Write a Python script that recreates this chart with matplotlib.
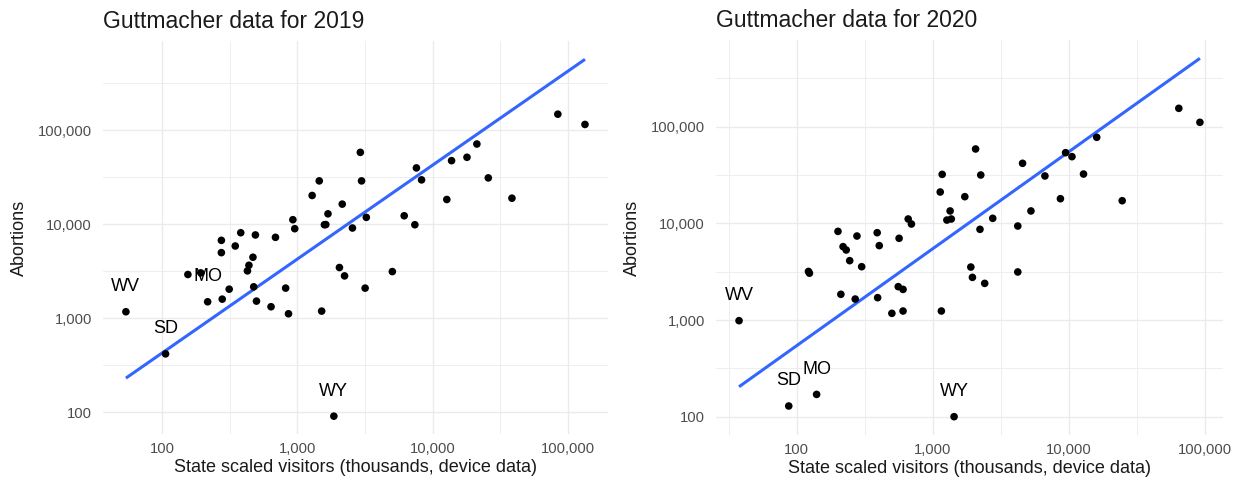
import numpy as np
import matplotlib
matplotlib.use("Agg")
import matplotlib.pyplot as plt
from matplotlib.ticker import FuncFormatter, FixedLocator

plt.rcParams['font.family'] = ['Liberation Sans', 'DejaVu Sans']

# ------------------- data -------------------
# 2019: state scaled visitors (thousands) vs abortions, unlabelled states
x_2019 = [155, 193, 313, 278, 274, 274, 347, 381, 489, 469, 438, 427, 475,
          498, 638, 688, 818, 859, 925, 955, 1284, 1449, 1510, 1582, 1620,
          1681, 2143, 2043, 2229, 2549, 2916, 2976, 3228, 3163, 5027, 6150,
          7374, 7572, 8262, 12700, 13770, 17900, 21180, 25720, 38470, 83990,
          133300]
y_2019 = [2917, 3035, 2037, 1596, 4980, 6730, 5860, 8110, 7680, 4450, 3656,
          3187, 2158, 1521, 1325, 7245, 2090, 1116, 11150, 8950, 20180, 28840,
          1191, 9860, 9900, 12880, 16330, 3461, 2820, 9100, 57970, 28840,
          11810, 2090, 3133, 12280, 9860, 39620, 29570, 18290, 47320, 51400,
          71100, 31040, 18880, 147600, 114800]
lab_2019 = ["WV", "SD", "MO", "WY"]
lab_x_2019 = [54, 106, 217, 1858]
lab_y_2019 = [1172, 418, 1496, 91]
# fitted trend line end points (as drawn in the chart)
fit_x_2019 = [54, 133300]
fit_y_2019 = [231, 565000]

# 2020
x_2020 = [122, 124, 201, 219, 231, 245, 277, 300, 211, 269, 390, 404, 393,
          500, 565, 557, 604, 604, 659, 696, 1133, 1171, 1155, 1268, 1339,
          1366, 1717, 2061, 2249, 2219, 1901, 1953, 2404, 2753, 4207, 4207,
          4561, 5255, 6657, 8653, 9443, 10520, 12790, 15990, 24600, 64100,
          91600]
y_2020 = [3180, 3050, 8260, 5740, 5300, 4110, 7390, 3560, 1845, 1648, 8000,
          5880, 1702, 1172, 7000, 2213, 2073, 1239, 11090, 9840, 21090, 32100,
          1239, 10810, 13430, 11090, 18870, 58760, 31620, 8670, 3530, 2761,
          2393, 11270, 9380, 3140, 41770, 13430, 30900, 17980, 53820, 48950,
          32350, 77600, 17140, 154800, 110900]
lab_2020 = ["WV", "SD", "MO", "WY"]
lab_x_2020 = [37.7, 87.4, 140, 1432]
lab_y_2020 = [984, 129, 170, 100]
fit_x_2020 = [37.7, 91600]
fit_y_2020 = [204, 509000]

panels = [
    ("Guttmacher data for 2019", x_2019, y_2019, lab_2019, lab_x_2019,
     lab_y_2019, fit_x_2019, fit_y_2019),
    ("Guttmacher data for 2020", x_2020, y_2020, lab_2020, lab_x_2020,
     lab_y_2020, fit_x_2020, fit_y_2020),
]
axes_pos = [[0.0827, 0.1088, 0.4056, 0.806],
            [0.5751, 0.1076, 0.4072, 0.8094]]

GRID = "#EBEBEB"
fig = plt.figure(figsize=(12.45, 4.87), dpi=100)
fmt = FuncFormatter(lambda v, p: f"{v:,.0f}")

for (title, xs, ys, labs, lx, ly, fx, fy), pos in zip(panels, axes_pos):
    ax = fig.add_axes(pos)
    ax.set_xscale("log")
    ax.set_yscale("log")

    ax.plot(fx, fy, color="#3366FF", lw=2.2, zorder=3, solid_capstyle="butt")
    ax.scatter(xs + lx, ys + ly, s=30, color="black", edgecolors="none",
               zorder=4)
    for t, px, py in zip(labs, lx, ly):
        ax.annotate(t, (px, py), xytext=(0, 18), textcoords="offset points",
                    ha="center", va="center", fontsize=13, color="black",
                    zorder=5)

    ax.margins(0.05)
    ax.autoscale_view()
    x0, x1 = ax.get_xlim()
    y0, y1 = ax.get_ylim()
    ax.xaxis.set_major_locator(FixedLocator([1e2, 1e3, 1e4, 1e5]))
    ax.yaxis.set_major_locator(FixedLocator([1e2, 1e3, 1e4, 1e5]))
    ax.xaxis.set_minor_locator(FixedLocator(10 ** np.arange(0.5, 6, 1.0)))
    ax.yaxis.set_minor_locator(FixedLocator(10 ** np.arange(0.5, 6, 1.0)))
    ax.xaxis.set_major_formatter(fmt)
    ax.yaxis.set_major_formatter(fmt)
    ax.xaxis.set_minor_formatter(FuncFormatter(lambda v, p: ""))
    ax.yaxis.set_minor_formatter(FuncFormatter(lambda v, p: ""))
    ax.set_xlim(x0, x1)
    ax.set_ylim(y0, y1)

    ax.grid(which="major", color=GRID, lw=1.0, zorder=0)
    ax.grid(which="minor", color=GRID, lw=0.6, zorder=0)
    ax.set_axisbelow(True)
    for s in ax.spines.values():
        s.set_visible(False)
    ax.tick_params(which="both", length=0, labelsize=10.6, labelcolor="#4D4D4D")
    ax.tick_params(axis="y", pad=8)
    ax.tick_params(axis="x", pad=6)

    ax.set_title(title, loc="left", fontsize=16.5, color="#1A1A1A", pad=10)
    ax.set_xlabel("State scaled visitors (thousands, device data)",
                  fontsize=13, color="#1A1A1A")
    ax.set_ylabel("Abortions", fontsize=13, color="#1A1A1A")
    ax.xaxis.set_label_coords(0.5, -0.085)
    ax.xaxis.label.set_va("center")
    ax.yaxis.set_label_coords(-0.165, 0.5)
    ax.yaxis.label.set_va("center")

fig.savefig("out.png", dpi=100)
